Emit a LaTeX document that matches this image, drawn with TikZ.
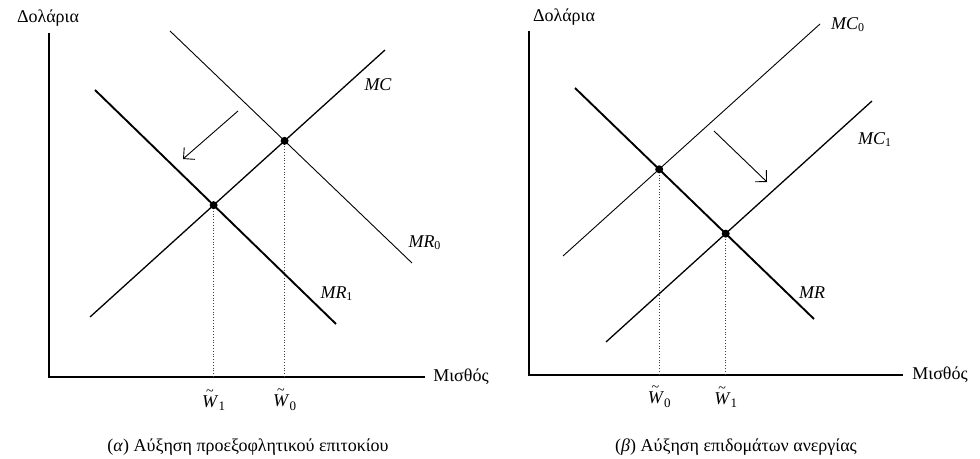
\documentclass[tikz,border=0pt]{standalone}
\usepackage{fontspec}
\setmainfont{Liberation Serif}
\usetikzlibrary{arrows.meta,calc}
\newcommand{\lowsub}[1]{\raisebox{-0.45ex}{\fontsize{6.5}{8}\selectfont #1}}
\newcommand{\wtil}[1]{\makebox[0pt][l]{\raisebox{1.45ex}{\kern0.22em\fontsize{7}{8}\selectfont\textasciitilde}}\textit{W}\lowsub{#1}}
\begin{document}
\begin{tikzpicture}[x=0.5pt,y=-0.5pt,
  axis/.style={line width=0.7pt},
  thincurve/.style={line width=0.45pt},
  medcurve/.style={line width=0.65pt},
  thickcurve/.style={line width=0.95pt},
  guide/.style={densely dotted, line width=0.4pt, black!75},
  eqdot/.style={circle, fill=black, inner sep=0pt, minimum size=4pt},
  lbl/.style={font=\fontsize{9}{11}\selectfont, inner sep=1pt},
  shiftarrow/.style={line width=0.45pt, -{Straight Barb[length=4pt,width=8pt]}},
]
\useasboundingbox (0,0) rectangle (980,459);

% ---------- left panel ----------
\coordinate (LO) at (49,377);
\coordinate (LYtop) at (49,33);
\coordinate (LXend) at (425,377);
\draw[axis] (LYtop) -- (LO) -- (LXend);
\node[lbl] (LYlab) at (48,18) {Δολάρια};
\node[lbl, anchor=west] (LXlab) at (431,377) {Μισθός};

\coordinate (MCa) at (90,317);
\coordinate (MCb) at (385,50);
\coordinate (MRza) at (170,31);
\coordinate (MRzb) at (412,263);
\coordinate (MRoa) at (95,90);
\coordinate (MRob) at (336,324);
\draw[medcurve] (MCa) -- (MCb);
\draw[thincurve] (MRza) -- (MRzb);
\draw[thickcurve] (MRoa) -- (MRob);

\coordinate (E0) at (intersection of MCa--MCb and MRza--MRzb);
\coordinate (E1) at (intersection of MCa--MCb and MRoa--MRob);
\draw[guide] (E0) -- (E0 |- LO);
\draw[guide] (E1) -- (E1 |- LO);
\node[eqdot] (dotE0) at (E0) {};
\node[eqdot] (dotE1) at (E1) {};

\node[lbl] (labMC) at (378,85) {$\mathit{MC}$};
\node[lbl] (labMRz) at (425,243) {$\mathit{MR}_{\mathrm{0}}$};
\node[lbl] (labMRo) at (337,294) {$\mathit{MR}_{\mathrm{1}}$};

\node[lbl] (labWl1) at ($(E1 |- LO)+(0,23)$) {\wtil{1}};
\node[lbl] (labWl0) at ($(E0 |- LO)+(0,23)$) {\wtil{0}};

\coordinate (LAs) at (238,111);
\coordinate (LAe) at (183,159);
\draw[shiftarrow] (LAs) -- (LAe);

\node[lbl] (capL) at (248,447) {(\textit{α}) Αύξηση προεξοφλητικού επιτοκίου};

% ---------- right panel ----------
\coordinate (RO) at (529,375);
\coordinate (RYtop) at (529,31);
\coordinate (RXend) at (903,375);
\draw[axis] (RYtop) -- (RO) -- (RXend);
\node[lbl] (RYlab) at (564,17) {Δολάρια};
\node[lbl, anchor=west] (RXlab) at (910,375) {Μισθός};

\coordinate (MCza) at (563,256);
\coordinate (MCzb) at (820,24);
\coordinate (MCoa) at (606,342);
\coordinate (MCob) at (872,101);
\coordinate (MRa) at (575,88);
\coordinate (MRb) at (814,319);
\draw[thincurve] (MCza) -- (MCzb);
\draw[medcurve] (MCoa) -- (MCob);
\draw[thickcurve] (MRa) -- (MRb);

\coordinate (F0) at (intersection of MRa--MRb and MCza--MCzb);
\coordinate (F1) at (intersection of MRa--MRb and MCoa--MCob);
\draw[guide] (F0) -- (F0 |- RO);
\draw[guide] (F1) -- (F1 |- RO);
\node[eqdot] (dotF0) at (F0) {};
\node[eqdot] (dotF1) at (F1) {};

\node[lbl] (labMCz) at (848,25) {$\mathit{MC}_{\mathrm{0}}$};
\node[lbl] (labMCo) at (875,140) {$\mathit{MC}_{\mathrm{1}}$};
\node[lbl] (labMR) at (812,293) {$\mathit{MR}$};

\node[lbl] (labWr0) at ($(F0 |- RO)+(0,22)$) {\wtil{0}};
\node[lbl] (labWr1) at ($(F1 |- RO)+(0,22)$) {\wtil{1}};

\coordinate (RAs) at (714,131);
\coordinate (RAe) at (767,182);
\draw[shiftarrow] (RAs) -- (RAe);

\node[lbl] (capR) at (736,447) {(\textit{β}) Αύξηση επιδομάτων ανεργίας};
\end{tikzpicture}
\end{document}
